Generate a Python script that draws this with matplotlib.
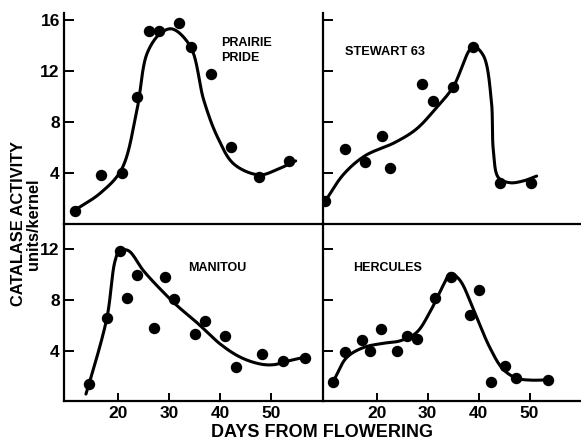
import numpy as np
import matplotlib
matplotlib.use("Agg")
import matplotlib.pyplot as plt

plt.rcParams['font.family'] = ['Liberation Sans', 'DejaVu Sans']

# ---------------- data ----------------
pp_days = [11.5, 16.6, 20.7, 23.7, 26.0, 28.1, 31.9, 34.2, 38.3, 42.2, 47.7, 53.5]
pp_vals = [1.0, 3.85, 4.0, 10.0, 15.1, 15.1, 15.8, 13.9, 11.8, 6.05, 3.7, 4.95]
pp_curve_days = [11.0, 16.6, 20.7, 23.7, 25.7, 28.3, 30.6, 34.2, 36.8, 39.5, 42.7, 47.7, 51.3, 54.8]
pp_curve_vals = [0.95, 2.45, 4.3, 8.96, 13.4, 14.95, 15.3, 13.9, 9.7, 6.8, 4.7, 3.85, 4.3, 4.95]

st_days = [9.9, 13.8, 17.7, 21.0, 22.7, 28.9, 31.0, 35.0, 38.9, 44.2, 50.2]
st_vals = [1.8, 5.87, 4.9, 6.87, 4.42, 10.95, 9.63, 10.74, 13.85, 3.24, 3.24]
st_curve_days = [9.9, 13.5, 17.7, 23.6, 27.8, 31.8, 35.0, 38.9, 40.9, 42.5, 42.9, 43.9, 46.1, 48.7, 51.4]
st_curve_vals = [1.8, 3.9, 5.35, 6.4, 7.45, 9.16, 10.74, 13.9, 13.24, 9.7, 5.74, 3.63, 3.24, 3.37, 3.76]

ma_days = [14.3, 17.8, 20.3, 21.8, 23.8, 27.0, 29.1, 30.9, 35.0, 37.0, 41.0, 43.2, 48.2, 52.4, 56.7]
ma_vals = [1.37, 6.57, 11.9, 8.14, 10.0, 5.78, 9.82, 8.06, 5.3, 6.35, 5.17, 2.73, 3.73, 3.15, 3.39]
ma_curve_days = [13.7, 14.3, 17.8, 19.4, 20.3, 22.0, 25.0, 28.3, 31.6, 35.5, 40.1, 44.1, 48.0, 50.6, 52.9, 56.9]
ma_curve_vals = [0.58, 1.37, 6.57, 11.08, 11.9, 11.9, 10.3, 8.85, 7.54, 6.2, 4.5, 3.46, 2.94, 2.9, 3.15, 3.52]

he_days = [11.5, 13.8, 17.1, 18.6, 20.8, 24.0, 26.0, 28.0, 31.5, 34.5, 38.4, 40.1, 42.4, 45.2, 47.3, 53.6]
he_vals = [1.57, 3.9, 4.85, 3.98, 5.74, 3.98, 5.17, 4.9, 8.14, 9.85, 6.8, 8.8, 1.5, 2.81, 1.84, 1.7]
he_curve_days = [11.5, 14.1, 17.4, 21.0, 24.6, 27.8, 30.5, 33.1, 34.5, 36.3, 38.9, 42.2, 44.8, 47.4, 50.1, 53.6]
he_curve_vals = [1.6, 3.46, 4.25, 4.57, 4.78, 5.43, 7.09, 9.19, 10.1, 9.58, 7.35, 4.25, 2.54, 1.84, 1.68, 1.7]

names = ["PRAIRIE\nPRIDE", "STEWART 63", "MANITOU", "HERCULES"]
y_ticks_top = [4, 8, 12, 16]
y_ticks_bottom = [4, 8, 12]
x_ticks = [20, 30, 40, 50]


def smooth(xs, ys, n=40, sx=5.1, sy=12.7):
    """Centripetal Catmull-Rom curve through the knots."""
    P = np.column_stack([np.asarray(xs, float) * sx, np.asarray(ys, float) * sy])
    P = np.vstack([2 * P[0] - P[1], P, 2 * P[-1] - P[-2]])
    out = []
    for i in range(1, len(P) - 2):
        p0, p1, p2, p3 = P[i - 1], P[i], P[i + 1], P[i + 2]
        t0 = 0.0
        t1 = t0 + np.linalg.norm(p1 - p0) ** 0.5
        t2 = t1 + np.linalg.norm(p2 - p1) ** 0.5
        t3 = t2 + np.linalg.norm(p3 - p2) ** 0.5
        t = np.linspace(t1, t2, n)[:, None]
        A1 = (t1 - t) / (t1 - t0) * p0 + (t - t0) / (t1 - t0) * p1
        A2 = (t2 - t) / (t2 - t1) * p1 + (t - t1) / (t2 - t1) * p2
        A3 = (t3 - t) / (t3 - t2) * p2 + (t - t2) / (t3 - t2) * p3
        B1 = (t2 - t) / (t2 - t0) * A1 + (t - t0) / (t2 - t0) * A2
        B2 = (t3 - t) / (t3 - t1) * A2 + (t - t1) / (t3 - t1) * A3
        C = (t2 - t) / (t2 - t1) * B1 + (t - t1) / (t2 - t1) * B2
        out.append(C if i == 1 else C[1:])
    C = np.vstack(out)
    return C[:, 0] / sx, C[:, 1] / sy


W, H = 581, 441
fig = plt.figure(figsize=(W / 100, H / 100), dpi=100)

xl, xm, xr = 64, 322.7, 581
yt, ymid, yb = 13, 224, 401.4


def box(x0, x1, ytop, ybot):
    return [x0 / W, (H - ybot) / H, (x1 - x0) / W, (ybot - ytop) / H]


ax_pp = fig.add_axes(box(xl, xm, yt, ymid))
ax_st = fig.add_axes(box(xm, xr, yt, ymid))
ax_ma = fig.add_axes(box(xl, xm, ymid, yb))
ax_he = fig.add_axes(box(xm, xr, ymid, yb))

panels = [
    (ax_pp, pp_days, pp_vals, pp_curve_days, pp_curve_vals, (0, 16.55), y_ticks_top, True, False),
    (ax_st, st_days, st_vals, st_curve_days, st_curve_vals, (0, 16.55), y_ticks_top, False, False),
    (ax_ma, ma_days, ma_vals, ma_curve_days, ma_curve_vals, (0, 14.0), y_ticks_bottom, True, True),
    (ax_he, he_days, he_vals, he_curve_days, he_curve_vals, (0, 14.0), y_ticks_bottom, False, True),
]

for ax, dx, dy, cx, cy, ylim, yt_list, left_labels, bottom in panels:
    ax.set_facecolor('none')
    sx_, sy_ = smooth(cx, cy)
    ax.plot(sx_, sy_, color='black', lw=2.2, solid_capstyle='round', zorder=2)
    ax.plot(dx, dy, 'o', color='black', ms=7.2, zorder=3)
    ax.set_xlim(9.4, 60.1)
    ax.set_ylim(*ylim)
    for s in ['top', 'right']:
        ax.spines[s].set_visible(False)
    for s in ['left', 'bottom']:
        ax.spines[s].set_linewidth(1.6)
    ax.set_yticks(yt_list)
    ax.tick_params(axis='y', direction='in', length=7, width=1.4, pad=3,
                   labelleft=left_labels, labelsize=12.5)
    if bottom:
        ax.set_xticks(x_ticks)
        ax.tick_params(axis='x', direction='in', length=6, width=1.4, pad=3.5, labelsize=12.5)
    else:
        ax.set_xticks([])
    for lab in ax.get_xticklabels() + ax.get_yticklabels():
        lab.set_fontweight('bold')
    for sp in ax.spines.values():
        sp.set_clip_on(False)

ax_pp.text(40.1, 14.66, names[0], ha='left', va='top', fontsize=9, fontweight='bold', linespacing=1.3)
ax_st.text(13.8, 13.5, names[1], ha='left', va='center', fontsize=9.2, fontweight='bold')
ax_ma.text(33.8, 10.56, names[2], ha='left', va='center', fontsize=9, fontweight='bold')
ax_he.text(15.35, 10.5, names[3], ha='left', va='center', fontsize=9, fontweight='bold')

fig.text(322 / W, 1 - 437 / H, "DAYS FROM FLOWERING", ha='center', va='baseline',
         fontsize=13, fontweight='bold')
fig.text(26 / W, 1 - 224 / H, "CATALASE ACTIVITY\nunits/kernel", ha='center', va='center',
         multialignment='center', rotation=90, fontsize=11.8, fontweight='bold',
         linespacing=0.95)

fig.savefig("out.png", dpi=100)
